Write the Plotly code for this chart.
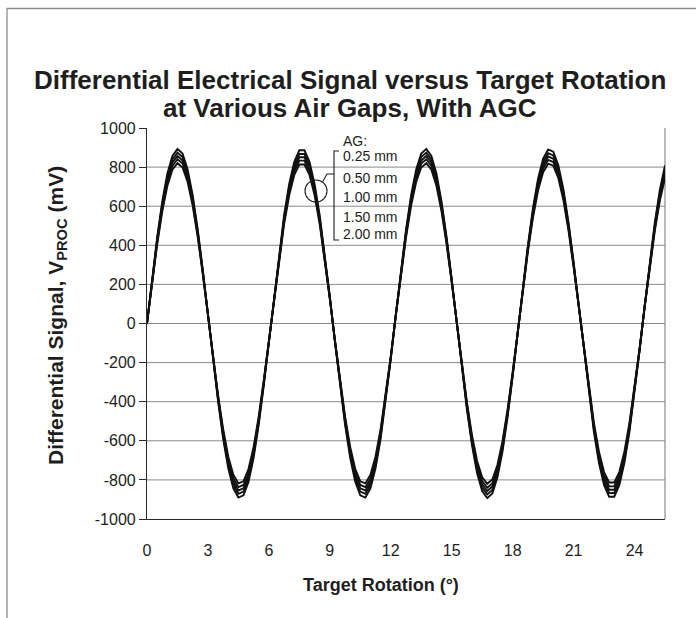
import plotly.graph_objects as go

# Target rotation sample grid (degrees), 0.25 deg steps
rotation_deg = [0, 0.25, 0.5, 0.75, 1, 1.25, 1.5, 1.75, 2, 2.25, 2.5, 2.75, 3, 3.25, 3.5, 3.75,
                4, 4.25, 4.5, 4.75, 5, 5.25, 5.5, 5.75, 6, 6.25, 6.5, 6.75, 7, 7.25, 7.5, 7.75,
                8, 8.25, 8.5, 8.75, 9, 9.25, 9.5, 9.75, 10, 10.25, 10.5, 10.75, 11, 11.25, 11.5,
                11.75, 12, 12.25, 12.5, 12.75, 13, 13.25, 13.5, 13.75, 14, 14.25, 14.5, 14.75,
                15, 15.25, 15.5, 15.75, 16, 16.25, 16.5, 16.75, 17, 17.25, 17.5, 17.75, 18,
                18.25, 18.5, 18.75, 19, 19.25, 19.5, 19.75, 20, 20.25, 20.5, 20.75, 21, 21.25,
                21.5, 21.75, 22, 22.25, 22.5, 22.75, 23, 23.25, 23.5, 23.75, 24, 24.25, 24.5,
                24.75, 25, 25.25, 25.5]

air_gaps = ["0.25 mm", "0.50 mm", "1.00 mm", "1.50 mm", "2.00 mm"]

# Differential signal V_PROC (mV) for each air gap
vproc_025 = [0, 227, 440, 623, 766, 857, 893, 869, 788, 655, 479, 272, 46,
             -183, -399, -590, -741, -843, -890, -879, -809, -686, -517, -315, -92,
             137, 358, 554, 714, 827, 886, 886, 827, 714, 554, 358, 137,
             -92, -315, -517, -686, -809, -879, -890, -843, -741, -590, -399, -183,
             46, 272, 479, 655, 788, 869, 893, 857, 766, 623, 440, 227, 0,
             -227, -440, -623, -766, -857, -893, -869, -788, -655, -479, -272, -46,
             183, 399, 590, 741, 843, 890, 879, 809, 686, 517, 315, 92,
             -137, -358, -554, -714, -827, -886, -886, -827, -714, -554, -358, -137,
             92, 315, 517, 686, 809]
vproc_050 = [0, 223, 430, 610, 749, 839, 874, 851, 771, 641, 469, 266, 45,
             -179, -391, -577, -725, -825, -871, -860, -792, -671, -506, -308, -90,
             135, 350, 542, 699, 810, 867, 867, 810, 699, 542, 350, 135,
             -90, -308, -506, -671, -792, -860, -871, -825, -725, -577, -391, -179,
             45, 266, 469, 641, 771, 851, 874, 839, 749, 610, 430, 223, 0,
             -223, -430, -610, -749, -839, -874, -851, -771, -641, -469, -266, -45,
             179, 391, 577, 725, 825, 871, 860, 792, 671, 506, 308, 90,
             -135, -350, -542, -699, -810, -867, -867, -810, -699, -542, -350, -135,
             90, 308, 506, 671, 792]
vproc_100 = [0, 218, 422, 598, 735, 823, 857, 834, 756, 629, 460, 261, 44,
             -175, -383, -566, -711, -809, -854, -843, -776, -658, -497, -302, -88,
             132, 343, 532, 685, 794, 850, 850, 794, 685, 532, 343, 132,
             -88, -302, -497, -658, -776, -843, -854, -809, -711, -566, -383, -175,
             44, 261, 460, 629, 756, 834, 857, 823, 735, 598, 422, 218, 0,
             -218, -422, -598, -735, -823, -857, -834, -756, -629, -460, -261, -44,
             175, 383, 566, 711, 809, 854, 843, 776, 658, 497, 302, 88,
             -132, -343, -532, -685, -794, -850, -850, -794, -685, -532, -343, -132,
             88, 302, 497, 658, 776]
vproc_150 = [0, 214, 414, 586, 720, 806, 840, 818, 741, 616, 451, 255, 43,
             -172, -376, -555, -697, -793, -837, -826, -761, -645, -487, -296, -86,
             129, 336, 521, 672, 778, 833, 833, 778, 672, 521, 336, 129,
             -86, -296, -487, -645, -761, -826, -837, -793, -697, -555, -376, -172,
             43, 255, 451, 616, 741, 818, 840, 806, 720, 586, 414, 214, 0,
             -214, -414, -586, -720, -806, -840, -818, -741, -616, -451, -255, -43,
             172, 376, 555, 697, 793, 837, 826, 761, 645, 487, 296, 86,
             -129, -336, -521, -672, -778, -833, -833, -778, -672, -521, -336, -129,
             86, 296, 487, 645, 761]
vproc_200 = [0, 209, 404, 572, 703, 787, 820, 798, 724, 602, 440, 249, 42,
             -168, -367, -541, -680, -774, -818, -807, -743, -630, -475, -289, -84,
             126, 328, 509, 656, 760, 813, 813, 760, 656, 509, 328, 126,
             -84, -289, -475, -630, -743, -807, -818, -774, -680, -541, -367, -168,
             42, 249, 440, 602, 724, 798, 820, 787, 703, 572, 404, 209, 0,
             -209, -404, -572, -703, -787, -820, -798, -724, -602, -440, -249, -42,
             168, 367, 541, 680, 774, 818, 807, 743, 630, 475, 289, 84,
             -126, -328, -509, -656, -760, -813, -813, -760, -656, -509, -328, -126,
             84, 289, 475, 630, 743]

x_ticks = [0, 3, 6, 9, 12, 15, 18, 21, 24]
y_ticks = [-1000, -800, -600, -400, -200, 0, 200, 400, 600, 800, 1000]
grid_values = [-800, -600, -400, -200, 0, 200, 400, 600, 800]

W, H = 696, 618
M_L, M_R, M_T, M_B = 147, 31, 128, 99
PW, PH = W - M_L - M_R, H - M_T - M_B
FONT = "Liberation Sans, Arial, sans-serif"
TXT = "#1e1e1e"


def pxx(x):
    """pixel column -> paper x"""
    return (x - M_L) / PW


def pxy(y):
    """pixel row -> paper y"""
    return (H - M_B - y) / PH


fig = go.Figure()
for name, vals in zip(air_gaps, [vproc_025, vproc_050, vproc_100, vproc_150, vproc_200]):
    fig.add_trace(go.Scatter(x=rotation_deg, y=vals, mode="lines", name=name,
                             line=dict(color="#111111", width=1.9), showlegend=False,
                             hoverinfo="skip"))

shapes = []
# horizontal gridlines
for g in grid_values:
    shapes.append(dict(type="line", xref="paper", yref="y", x0=0, x1=1, y0=g, y1=g,
                       line=dict(color="#8a8a8a", width=1), layer="below"))
# right border of the plot area
shapes.append(dict(type="line", xref="paper", yref="paper", x0=1, x1=1, y0=0, y1=1,
                   line=dict(color="#8a8a8a", width=1.2), layer="below"))
# outer chart frame
shapes.append(dict(type="rect", xref="paper", yref="paper",
                   x0=pxx(7), y0=pxy(640), x1=pxx(720), y1=pxy(8.5),
                   line=dict(color="#8c8c8c", width=1.3), layer="below"))
# air-gap bracket
shapes.append(dict(type="path", xref="paper", yref="paper",
                   path=(f"M {pxx(339)} {pxy(151)} L {pxx(334)} {pxy(151)} "
                         f"L {pxx(334)} {pxy(240)} L {pxx(339)} {pxy(240)}"),
                   line=dict(color="#1e1e1e", width=1.1)))
# leader line to the circled curves
shapes.append(dict(type="path", xref="paper", yref="paper",
                   path=(f"M {pxx(334)} {pxy(174)} L {pxx(327)} {pxy(174)} "
                         f"L {pxx(322.5)} {pxy(182)}"),
                   line=dict(color="#1e1e1e", width=1.1)))
shapes.append(dict(type="circle", xref="paper", yref="paper",
                   x0=pxx(305), x1=pxx(327), y0=pxy(202), y1=pxy(180),
                   line=dict(color="#1e1e1e", width=1.1)))

annotations = [
    dict(text="<b>Differential Electrical Signal versus Target Rotation</b>",
         xref="paper", yref="paper", x=pxx(350), y=pxy(80), xanchor="center",
         yanchor="middle", showarrow=False, font=dict(size=26, color=TXT, family=FONT)),
    dict(text="<b>at Various Air Gaps, With AGC</b>",
         xref="paper", yref="paper", x=pxx(350), y=pxy(108), xanchor="center",
         yanchor="middle", showarrow=False, font=dict(size=26, color=TXT, family=FONT)),
    dict(text="<b>Differential Signal, V<sub>PROC</sub> (mV)</b>", textangle=-90,
         xref="paper", yref="paper", x=pxx(57), y=pxy(316), xanchor="center",
         yanchor="middle", showarrow=False, font=dict(size=21, color=TXT, family=FONT)),
    dict(text="<b>Target Rotation (°)</b>",
         xref="paper", yref="paper", x=pxx(381), y=pxy(585), xanchor="center",
         yanchor="middle", showarrow=False, font=dict(size=18, color=TXT, family=FONT)),
    dict(text="AG:", xref="paper", yref="paper", x=pxx(341), y=pxy(141), xanchor="left",
         yanchor="middle", showarrow=False, font=dict(size=14, color=TXT, family=FONT)),
]
label_y = [156, 178, 197, 217, 234]
for lab, ly in zip(air_gaps, label_y):
    annotations.append(dict(text=lab, xref="paper", yref="paper", x=pxx(341), y=pxy(ly),
                            xanchor="left", yanchor="middle", showarrow=False,
                            font=dict(size=14, color=TXT, family=FONT)))

fig.update_layout(
    width=W, height=H,
    margin=dict(l=M_L, r=M_R, t=M_T, b=M_B, pad=0),
    paper_bgcolor="white", plot_bgcolor="white",
    font=dict(family=FONT, color=TXT, size=16),
    shapes=shapes, annotations=annotations,
    xaxis=dict(range=[0, 25.5], tickvals=x_ticks, ticktext=[str(v) for v in x_ticks],
               ticks="outside", ticklen=17, tickcolor="rgba(0,0,0,0)",
               showline=True, linecolor="#2a2a2a", linewidth=1.2, showgrid=False,
               zeroline=False, automargin=False, tickfont=dict(size=16, color=TXT)),
    yaxis=dict(range=[-1000, 1000], tickvals=y_ticks,
               ticktext=[str(v) for v in y_ticks],
               ticks="outside", ticklen=7, tickcolor="#2a2a2a", tickwidth=1,
               showline=True, linecolor="#2a2a2a", linewidth=1.2, showgrid=False,
               zeroline=False, automargin=False, tickfont=dict(size=16, color=TXT)),
)

fig.write_html("out.html")
